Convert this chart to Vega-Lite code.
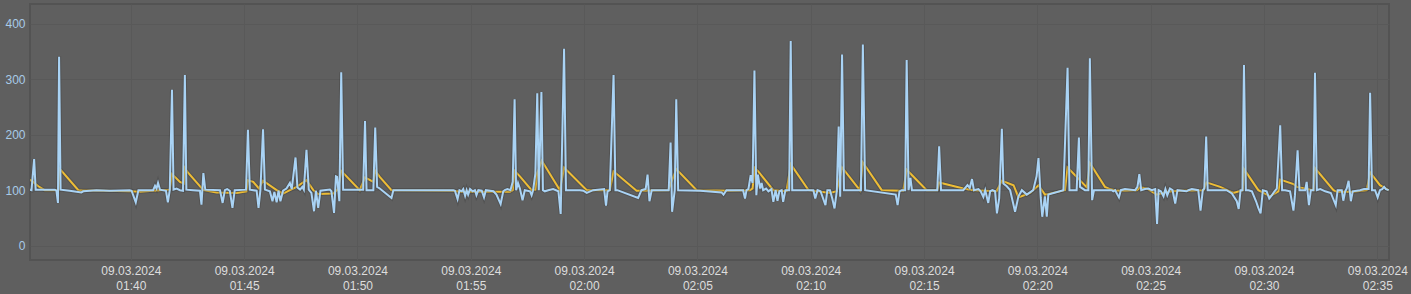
{
"$schema": "https://vega.github.io/schema/vega-lite/v6.json",
"width": 1359, "height": 256,
"autosize": {"type": "none"},
"padding": {"left": 30, "top": 4, "right": 22, "bottom": 34},
"background": "#5f5f5f",
"config": {
  "view": {"fill": "#5f5f5f", "stroke": "#535353", "strokeWidth": 2},
  "axis": {"labelFont": "Liberation Sans", "labelFontSize": 12, "grid": true, "gridColor": "#595959", "gridWidth": 1, "domain": false, "ticks": false, "title": null}
},
"datasets": {
"blue": [
{"t":"2024-03-09T01:35:33Z","v":101},{"t":"2024-03-09T01:35:37Z","v":100},{"t":"2024-03-09T01:35:44Z","v":156},{"t":"2024-03-09T01:35:48Z","v":101},
{"t":"2024-03-09T01:36:39Z","v":101},{"t":"2024-03-09T01:36:43Z","v":99},{"t":"2024-03-09T01:36:47Z","v":77},{"t":"2024-03-09T01:36:50Z","v":341},{"t":"2024-03-09T01:36:54Z","v":101},
{"t":"2024-03-09T01:37:18Z","v":99},{"t":"2024-03-09T01:37:49Z","v":96},{"t":"2024-03-09T01:37:54Z","v":98},{"t":"2024-03-09T01:38:29Z","v":100},{"t":"2024-03-09T01:39:04Z","v":99},
{"t":"2024-03-09T01:39:57Z","v":100},{"t":"2024-03-09T01:40:02Z","v":99},{"t":"2024-03-09T01:40:13Z","v":78},{"t":"2024-03-09T01:40:20Z","v":100},{"t":"2024-03-09T01:40:59Z","v":100},
{"t":"2024-03-09T01:41:04Z","v":108},{"t":"2024-03-09T01:41:08Z","v":103},{"t":"2024-03-09T01:41:12Z","v":113},{"t":"2024-03-09T01:41:17Z","v":101},{"t":"2024-03-09T01:41:33Z","v":99},
{"t":"2024-03-09T01:41:38Z","v":78},{"t":"2024-03-09T01:41:43Z","v":100},{"t":"2024-03-09T01:41:49Z","v":281},{"t":"2024-03-09T01:41:53Z","v":101},{"t":"2024-03-09T01:42:01Z","v":103},
{"t":"2024-03-09T01:42:10Z","v":100},{"t":"2024-03-09T01:42:18Z","v":99},{"t":"2024-03-09T01:42:23Z","v":308},{"t":"2024-03-09T01:42:27Z","v":101},{"t":"2024-03-09T01:42:45Z","v":100},
{"t":"2024-03-09T01:43:03Z","v":99},{"t":"2024-03-09T01:43:07Z","v":74},{"t":"2024-03-09T01:43:12Z","v":131},{"t":"2024-03-09T01:43:17Z","v":101},{"t":"2024-03-09T01:43:56Z","v":100},
{"t":"2024-03-09T01:44:03Z","v":77},{"t":"2024-03-09T01:44:09Z","v":100},{"t":"2024-03-09T01:44:15Z","v":102},{"t":"2024-03-09T01:44:22Z","v":99},{"t":"2024-03-09T01:44:29Z","v":68},
{"t":"2024-03-09T01:44:35Z","v":100},{"t":"2024-03-09T01:45:05Z","v":101},{"t":"2024-03-09T01:45:10Z","v":209},{"t":"2024-03-09T01:45:15Z","v":101},{"t":"2024-03-09T01:45:33Z","v":99},
{"t":"2024-03-09T01:45:38Z","v":68},{"t":"2024-03-09T01:45:43Z","v":100},{"t":"2024-03-09T01:45:50Z","v":210},{"t":"2024-03-09T01:45:55Z","v":101},{"t":"2024-03-09T01:46:08Z","v":98},
{"t":"2024-03-09T01:46:15Z","v":80},{"t":"2024-03-09T01:46:20Z","v":97},{"t":"2024-03-09T01:46:26Z","v":78},{"t":"2024-03-09T01:46:31Z","v":99},{"t":"2024-03-09T01:46:36Z","v":80},
{"t":"2024-03-09T01:46:43Z","v":99},{"t":"2024-03-09T01:46:52Z","v":103},{"t":"2024-03-09T01:47:01Z","v":113},{"t":"2024-03-09T01:47:06Z","v":102},{"t":"2024-03-09T01:47:16Z","v":159},
{"t":"2024-03-09T01:47:21Z","v":105},{"t":"2024-03-09T01:47:28Z","v":101},{"t":"2024-03-09T01:47:34Z","v":106},{"t":"2024-03-09T01:47:38Z","v":101},{"t":"2024-03-09T01:47:45Z","v":173},
{"t":"2024-03-09T01:47:51Z","v":101},{"t":"2024-03-09T01:47:58Z","v":95},{"t":"2024-03-09T01:48:05Z","v":62},{"t":"2024-03-09T01:48:10Z","v":99},{"t":"2024-03-09T01:48:16Z","v":68},
{"t":"2024-03-09T01:48:22Z","v":99},{"t":"2024-03-09T01:48:47Z","v":101},{"t":"2024-03-09T01:48:51Z","v":98},{"t":"2024-03-09T01:48:58Z","v":59},{"t":"2024-03-09T01:49:03Z","v":125},
{"t":"2024-03-09T01:49:06Z","v":124},{"t":"2024-03-09T01:49:12Z","v":80},{"t":"2024-03-09T01:49:17Z","v":313},{"t":"2024-03-09T01:49:22Z","v":101},{"t":"2024-03-09T01:50:15Z","v":101},
{"t":"2024-03-09T01:50:20Z","v":225},{"t":"2024-03-09T01:50:24Z","v":100},{"t":"2024-03-09T01:50:42Z","v":100},{"t":"2024-03-09T01:50:47Z","v":213},{"t":"2024-03-09T01:50:52Z","v":106},
{"t":"2024-03-09T01:50:59Z","v":103},{"t":"2024-03-09T01:51:30Z","v":86},{"t":"2024-03-09T01:51:35Z","v":100},{"t":"2024-03-09T01:54:14Z","v":100},{"t":"2024-03-09T01:54:18Z","v":99},
{"t":"2024-03-09T01:54:25Z","v":84},{"t":"2024-03-09T01:54:30Z","v":100},{"t":"2024-03-09T01:54:36Z","v":98},{"t":"2024-03-09T01:54:40Z","v":102},{"t":"2024-03-09T01:54:45Z","v":90},
{"t":"2024-03-09T01:54:49Z","v":100},{"t":"2024-03-09T01:54:53Z","v":92},{"t":"2024-03-09T01:54:58Z","v":102},{"t":"2024-03-09T01:55:05Z","v":98},{"t":"2024-03-09T01:55:11Z","v":100},
{"t":"2024-03-09T01:55:15Z","v":91},{"t":"2024-03-09T01:55:20Z","v":100},{"t":"2024-03-09T01:55:29Z","v":99},{"t":"2024-03-09T01:55:35Z","v":87},{"t":"2024-03-09T01:55:40Z","v":100},
{"t":"2024-03-09T01:56:00Z","v":98},{"t":"2024-03-09T01:56:08Z","v":92},{"t":"2024-03-09T01:56:19Z","v":75},{"t":"2024-03-09T01:56:26Z","v":98},{"t":"2024-03-09T01:56:30Z","v":100},
{"t":"2024-03-09T01:56:37Z","v":102},{"t":"2024-03-09T01:56:45Z","v":100},{"t":"2024-03-09T01:56:51Z","v":115},{"t":"2024-03-09T01:56:56Z","v":264},{"t":"2024-03-09T01:57:00Z","v":100},
{"t":"2024-03-09T01:57:05Z","v":113},{"t":"2024-03-09T01:57:10Z","v":103},{"t":"2024-03-09T01:57:17Z","v":82},{"t":"2024-03-09T01:57:23Z","v":100},{"t":"2024-03-09T01:57:37Z","v":98},
{"t":"2024-03-09T01:57:41Z","v":91},{"t":"2024-03-09T01:57:45Z","v":100},{"t":"2024-03-09T01:57:51Z","v":130},{"t":"2024-03-09T01:57:56Z","v":275},{"t":"2024-03-09T01:58:00Z","v":100},
{"t":"2024-03-09T01:58:07Z","v":277},{"t":"2024-03-09T01:58:11Z","v":100},{"t":"2024-03-09T01:58:16Z","v":98},{"t":"2024-03-09T01:58:25Z","v":100},{"t":"2024-03-09T01:58:38Z","v":102},
{"t":"2024-03-09T01:58:52Z","v":98},{"t":"2024-03-09T01:58:58Z","v":57},{"t":"2024-03-09T01:59:07Z","v":355},{"t":"2024-03-09T01:59:12Z","v":100},{"t":"2024-03-09T01:59:49Z","v":100},
{"t":"2024-03-09T01:59:58Z","v":99},{"t":"2024-03-09T02:00:07Z","v":95},{"t":"2024-03-09T02:00:24Z","v":100},{"t":"2024-03-09T02:00:53Z","v":102},{"t":"2024-03-09T02:00:58Z","v":72},
{"t":"2024-03-09T02:01:02Z","v":98},{"t":"2024-03-09T02:01:08Z","v":100},{"t":"2024-03-09T02:01:18Z","v":308},{"t":"2024-03-09T02:01:23Z","v":100},{"t":"2024-03-09T02:01:28Z","v":100},
{"t":"2024-03-09T02:02:23Z","v":86},{"t":"2024-03-09T02:02:32Z","v":100},{"t":"2024-03-09T02:02:43Z","v":102},{"t":"2024-03-09T02:02:48Z","v":128},{"t":"2024-03-09T02:02:53Z","v":80},
{"t":"2024-03-09T02:02:59Z","v":100},{"t":"2024-03-09T02:03:44Z","v":100},{"t":"2024-03-09T02:03:49Z","v":186},{"t":"2024-03-09T02:03:53Z","v":61},{"t":"2024-03-09T02:04:00Z","v":100},
{"t":"2024-03-09T02:04:04Z","v":264},{"t":"2024-03-09T02:04:09Z","v":100},{"t":"2024-03-09T02:05:07Z","v":99},{"t":"2024-03-09T02:06:04Z","v":96},{"t":"2024-03-09T02:06:09Z","v":92},
{"t":"2024-03-09T02:06:17Z","v":100},{"t":"2024-03-09T02:06:26Z","v":100},{"t":"2024-03-09T02:07:01Z","v":100},{"t":"2024-03-09T02:07:06Z","v":85},{"t":"2024-03-09T02:07:10Z","v":100},
{"t":"2024-03-09T02:07:15Z","v":102},{"t":"2024-03-09T02:07:21Z","v":127},{"t":"2024-03-09T02:07:26Z","v":113},{"t":"2024-03-09T02:07:31Z","v":316},{"t":"2024-03-09T02:07:36Z","v":91},
{"t":"2024-03-09T02:07:40Z","v":128},{"t":"2024-03-09T02:07:46Z","v":103},{"t":"2024-03-09T02:07:50Z","v":113},{"t":"2024-03-09T02:07:54Z","v":100},{"t":"2024-03-09T02:08:02Z","v":103},
{"t":"2024-03-09T02:08:08Z","v":98},{"t":"2024-03-09T02:08:16Z","v":102},{"t":"2024-03-09T02:08:21Z","v":79},{"t":"2024-03-09T02:08:27Z","v":100},{"t":"2024-03-09T02:08:32Z","v":81},
{"t":"2024-03-09T02:08:37Z","v":98},{"t":"2024-03-09T02:08:43Z","v":100},{"t":"2024-03-09T02:08:47Z","v":79},{"t":"2024-03-09T02:08:53Z","v":100},{"t":"2024-03-09T02:09:03Z","v":100},
{"t":"2024-03-09T02:09:07Z","v":369},{"t":"2024-03-09T02:09:11Z","v":100},{"t":"2024-03-09T02:10:07Z","v":100},{"t":"2024-03-09T02:10:12Z","v":85},{"t":"2024-03-09T02:10:18Z","v":100},
{"t":"2024-03-09T02:10:26Z","v":98},{"t":"2024-03-09T02:10:39Z","v":73},{"t":"2024-03-09T02:10:44Z","v":100},{"t":"2024-03-09T02:10:51Z","v":100},{"t":"2024-03-09T02:10:57Z","v":85},
{"t":"2024-03-09T02:11:03Z","v":67},{"t":"2024-03-09T02:11:09Z","v":98},{"t":"2024-03-09T02:11:14Z","v":215},{"t":"2024-03-09T02:11:18Z","v":88},{"t":"2024-03-09T02:11:23Z","v":345},
{"t":"2024-03-09T02:11:28Z","v":100},{"t":"2024-03-09T02:12:13Z","v":100},{"t":"2024-03-09T02:12:18Z","v":363},{"t":"2024-03-09T02:12:24Z","v":100},{"t":"2024-03-09T02:13:45Z","v":92},
{"t":"2024-03-09T02:13:50Z","v":73},{"t":"2024-03-09T02:13:55Z","v":98},{"t":"2024-03-09T02:14:01Z","v":100},{"t":"2024-03-09T02:14:10Z","v":100},{"t":"2024-03-09T02:14:14Z","v":335},
{"t":"2024-03-09T02:14:19Z","v":100},{"t":"2024-03-09T02:14:24Z","v":122},{"t":"2024-03-09T02:14:28Z","v":100},{"t":"2024-03-09T02:15:35Z","v":100},{"t":"2024-03-09T02:15:40Z","v":179},
{"t":"2024-03-09T02:15:45Z","v":100},{"t":"2024-03-09T02:16:44Z","v":100},{"t":"2024-03-09T02:16:55Z","v":109},{"t":"2024-03-09T02:17:01Z","v":104},{"t":"2024-03-09T02:17:07Z","v":120},
{"t":"2024-03-09T02:17:12Z","v":100},{"t":"2024-03-09T02:17:24Z","v":102},{"t":"2024-03-09T02:17:30Z","v":98},{"t":"2024-03-09T02:17:37Z","v":88},{"t":"2024-03-09T02:17:42Z","v":100},
{"t":"2024-03-09T02:17:50Z","v":77},{"t":"2024-03-09T02:17:55Z","v":98},{"t":"2024-03-09T02:18:01Z","v":100},{"t":"2024-03-09T02:18:08Z","v":98},{"t":"2024-03-09T02:18:13Z","v":58},
{"t":"2024-03-09T02:18:19Z","v":85},{"t":"2024-03-09T02:18:26Z","v":211},{"t":"2024-03-09T02:18:30Z","v":112},{"t":"2024-03-09T02:18:39Z","v":107},{"t":"2024-03-09T02:18:48Z","v":100},
{"t":"2024-03-09T02:19:01Z","v":61},{"t":"2024-03-09T02:19:10Z","v":89},{"t":"2024-03-09T02:19:19Z","v":100},{"t":"2024-03-09T02:19:32Z","v":92},{"t":"2024-03-09T02:19:49Z","v":100},
{"t":"2024-03-09T02:19:58Z","v":125},{"t":"2024-03-09T02:20:03Z","v":158},{"t":"2024-03-09T02:20:09Z","v":86},{"t":"2024-03-09T02:20:13Z","v":52},{"t":"2024-03-09T02:20:20Z","v":89},
{"t":"2024-03-09T02:20:25Z","v":52},{"t":"2024-03-09T02:20:29Z","v":92},{"t":"2024-03-09T02:21:09Z","v":100},{"t":"2024-03-09T02:21:20Z","v":321},{"t":"2024-03-09T02:21:25Z","v":100},
{"t":"2024-03-09T02:21:44Z","v":100},{"t":"2024-03-09T02:21:50Z","v":195},{"t":"2024-03-09T02:21:53Z","v":106},{"t":"2024-03-09T02:22:06Z","v":100},{"t":"2024-03-09T02:22:15Z","v":100},
{"t":"2024-03-09T02:22:19Z","v":338},{"t":"2024-03-09T02:22:25Z","v":82},{"t":"2024-03-09T02:22:30Z","v":100},{"t":"2024-03-09T02:23:17Z","v":100},{"t":"2024-03-09T02:23:21Z","v":98},
{"t":"2024-03-09T02:23:26Z","v":100},{"t":"2024-03-09T02:23:32Z","v":92},{"t":"2024-03-09T02:23:36Z","v":87},{"t":"2024-03-09T02:23:41Z","v":100},{"t":"2024-03-09T02:23:52Z","v":102},
{"t":"2024-03-09T02:24:19Z","v":100},{"t":"2024-03-09T02:24:25Z","v":106},{"t":"2024-03-09T02:24:30Z","v":129},{"t":"2024-03-09T02:24:35Z","v":100},{"t":"2024-03-09T02:24:45Z","v":102},
{"t":"2024-03-09T02:24:54Z","v":103},{"t":"2024-03-09T02:25:03Z","v":100},{"t":"2024-03-09T02:25:12Z","v":102},{"t":"2024-03-09T02:25:17Z","v":39},{"t":"2024-03-09T02:25:21Z","v":100},
{"t":"2024-03-09T02:25:27Z","v":98},{"t":"2024-03-09T02:25:34Z","v":89},{"t":"2024-03-09T02:25:39Z","v":102},{"t":"2024-03-09T02:25:44Z","v":91},{"t":"2024-03-09T02:25:51Z","v":103},
{"t":"2024-03-09T02:25:58Z","v":100},{"t":"2024-03-09T02:26:05Z","v":76},{"t":"2024-03-09T02:26:11Z","v":100},{"t":"2024-03-09T02:26:35Z","v":98},{"t":"2024-03-09T02:26:40Z","v":100},
{"t":"2024-03-09T02:26:49Z","v":102},{"t":"2024-03-09T02:27:06Z","v":100},{"t":"2024-03-09T02:27:12Z","v":63},{"t":"2024-03-09T02:27:18Z","v":100},{"t":"2024-03-09T02:27:22Z","v":103},
{"t":"2024-03-09T02:27:27Z","v":197},{"t":"2024-03-09T02:27:31Z","v":100},{"t":"2024-03-09T02:28:21Z","v":100},{"t":"2024-03-09T02:28:35Z","v":94},{"t":"2024-03-09T02:28:48Z","v":80},
{"t":"2024-03-09T02:28:53Z","v":66},{"t":"2024-03-09T02:28:58Z","v":100},{"t":"2024-03-09T02:29:03Z","v":100},{"t":"2024-03-09T02:29:07Z","v":326},{"t":"2024-03-09T02:29:12Z","v":100},
{"t":"2024-03-09T02:29:19Z","v":100},{"t":"2024-03-09T02:29:28Z","v":98},{"t":"2024-03-09T02:29:39Z","v":80},{"t":"2024-03-09T02:29:45Z","v":68},{"t":"2024-03-09T02:29:51Z","v":58},
{"t":"2024-03-09T02:29:57Z","v":100},{"t":"2024-03-09T02:30:07Z","v":98},{"t":"2024-03-09T02:30:14Z","v":85},{"t":"2024-03-09T02:30:21Z","v":91},{"t":"2024-03-09T02:30:28Z","v":98},
{"t":"2024-03-09T02:30:34Z","v":103},{"t":"2024-03-09T02:30:43Z","v":217},{"t":"2024-03-09T02:30:48Z","v":100},{"t":"2024-03-09T02:30:56Z","v":100},{"t":"2024-03-09T02:31:09Z","v":98},
{"t":"2024-03-09T02:31:18Z","v":63},{"t":"2024-03-09T02:31:22Z","v":91},{"t":"2024-03-09T02:31:29Z","v":172},{"t":"2024-03-09T02:31:34Z","v":100},{"t":"2024-03-09T02:31:49Z","v":100},
{"t":"2024-03-09T02:31:53Z","v":115},{"t":"2024-03-09T02:31:59Z","v":73},{"t":"2024-03-09T02:32:04Z","v":100},{"t":"2024-03-09T02:32:11Z","v":100},{"t":"2024-03-09T02:32:15Z","v":312},
{"t":"2024-03-09T02:32:20Z","v":100},{"t":"2024-03-09T02:32:29Z","v":102},{"t":"2024-03-09T02:32:42Z","v":98},{"t":"2024-03-09T02:32:57Z","v":95},{"t":"2024-03-09T02:33:10Z","v":73},
{"t":"2024-03-09T02:33:15Z","v":100},{"t":"2024-03-09T02:33:26Z","v":100},{"t":"2024-03-09T02:33:30Z","v":81},{"t":"2024-03-09T02:33:35Z","v":98},{"t":"2024-03-09T02:33:39Z","v":103},
{"t":"2024-03-09T02:33:44Z","v":117},{"t":"2024-03-09T02:33:50Z","v":80},{"t":"2024-03-09T02:33:55Z","v":98},{"t":"2024-03-09T02:34:14Z","v":100},{"t":"2024-03-09T02:34:25Z","v":102},
{"t":"2024-03-09T02:34:37Z","v":102},{"t":"2024-03-09T02:34:41Z","v":276},{"t":"2024-03-09T02:34:46Z","v":100},{"t":"2024-03-09T02:34:54Z","v":100},{"t":"2024-03-09T02:35:01Z","v":87},
{"t":"2024-03-09T02:35:07Z","v":100},{"t":"2024-03-09T02:35:13Z","v":102},{"t":"2024-03-09T02:35:18Z","v":106},{"t":"2024-03-09T02:35:23Z","v":102},{"t":"2024-03-09T02:35:30Z","v":100}
],
"yellow": [
{"t":"2024-03-09T01:35:33Z","v":119},{"t":"2024-03-09T01:35:41Z","v":115},{"t":"2024-03-09T01:35:55Z","v":107},{"t":"2024-03-09T01:36:12Z","v":100},{"t":"2024-03-09T01:36:48Z","v":100},
{"t":"2024-03-09T01:36:50Z","v":140},{"t":"2024-03-09T01:37:41Z","v":100},{"t":"2024-03-09T01:39:57Z","v":98},{"t":"2024-03-09T01:40:24Z","v":97},{"t":"2024-03-09T01:40:59Z","v":99},
{"t":"2024-03-09T01:41:43Z","v":101},{"t":"2024-03-09T01:41:49Z","v":129},{"t":"2024-03-09T01:42:10Z","v":115},{"t":"2024-03-09T01:42:20Z","v":112},{"t":"2024-03-09T01:42:23Z","v":140},
{"t":"2024-03-09T01:42:32Z","v":131},{"t":"2024-03-09T01:43:12Z","v":100},{"t":"2024-03-09T01:43:47Z","v":96},{"t":"2024-03-09T01:44:40Z","v":95},{"t":"2024-03-09T01:45:06Z","v":98},
{"t":"2024-03-09T01:45:10Z","v":118},{"t":"2024-03-09T01:45:24Z","v":115},{"t":"2024-03-09T01:45:39Z","v":103},{"t":"2024-03-09T01:45:50Z","v":117},{"t":"2024-03-09T01:46:26Z","v":100},
{"t":"2024-03-09T01:46:43Z","v":94},{"t":"2024-03-09T01:47:01Z","v":100},{"t":"2024-03-09T01:47:19Z","v":106},{"t":"2024-03-09T01:47:45Z","v":118},{"t":"2024-03-09T01:48:03Z","v":100},
{"t":"2024-03-09T01:48:16Z","v":93},{"t":"2024-03-09T01:48:56Z","v":94},{"t":"2024-03-09T01:49:09Z","v":102},{"t":"2024-03-09T01:49:17Z","v":135},{"t":"2024-03-09T01:50:06Z","v":100},
{"t":"2024-03-09T01:50:20Z","v":123},{"t":"2024-03-09T01:50:42Z","v":115},{"t":"2024-03-09T01:50:47Z","v":135},{"t":"2024-03-09T01:50:59Z","v":124},{"t":"2024-03-09T01:51:30Z","v":100},
{"t":"2024-03-09T01:54:14Z","v":99},{"t":"2024-03-09T01:54:31Z","v":97},{"t":"2024-03-09T01:56:44Z","v":97},{"t":"2024-03-09T01:56:51Z","v":100},{"t":"2024-03-09T01:56:56Z","v":135},
{"t":"2024-03-09T01:57:10Z","v":125},{"t":"2024-03-09T01:57:41Z","v":100},{"t":"2024-03-09T01:57:51Z","v":101},{"t":"2024-03-09T01:57:56Z","v":131},{"t":"2024-03-09T01:58:08Z","v":153},
{"t":"2024-03-09T01:58:56Z","v":100},{"t":"2024-03-09T01:59:07Z","v":141},{"t":"2024-03-09T02:00:07Z","v":100},{"t":"2024-03-09T02:01:08Z","v":100},{"t":"2024-03-09T02:01:18Z","v":134},
{"t":"2024-03-09T02:02:19Z","v":99},{"t":"2024-03-09T02:03:43Z","v":100},{"t":"2024-03-09T02:04:04Z","v":138},{"t":"2024-03-09T02:04:58Z","v":100},{"t":"2024-03-09T02:06:26Z","v":99},
{"t":"2024-03-09T02:07:19Z","v":100},{"t":"2024-03-09T02:07:26Z","v":103},{"t":"2024-03-09T02:07:32Z","v":140},{"t":"2024-03-09T02:07:41Z","v":134},{"t":"2024-03-09T02:08:21Z","v":100},
{"t":"2024-03-09T02:08:56Z","v":98},{"t":"2024-03-09T02:09:07Z","v":147},{"t":"2024-03-09T02:09:54Z","v":100},{"t":"2024-03-09T02:10:51Z","v":95},{"t":"2024-03-09T02:11:09Z","v":98},
{"t":"2024-03-09T02:11:23Z","v":141},{"t":"2024-03-09T02:12:10Z","v":100},{"t":"2024-03-09T02:12:18Z","v":150},{"t":"2024-03-09T02:13:08Z","v":100},{"t":"2024-03-09T02:14:05Z","v":99},
{"t":"2024-03-09T02:14:14Z","v":137},{"t":"2024-03-09T02:15:07Z","v":100},{"t":"2024-03-09T02:15:35Z","v":100},{"t":"2024-03-09T02:15:40Z","v":114},{"t":"2024-03-09T02:16:44Z","v":103},
{"t":"2024-03-09T02:17:11Z","v":100},{"t":"2024-03-09T02:18:12Z","v":98},{"t":"2024-03-09T02:18:26Z","v":117},{"t":"2024-03-09T02:18:57Z","v":109},{"t":"2024-03-09T02:19:10Z","v":87},
{"t":"2024-03-09T02:19:41Z","v":95},{"t":"2024-03-09T02:20:03Z","v":109},{"t":"2024-03-09T02:20:20Z","v":92},{"t":"2024-03-09T02:21:13Z","v":100},{"t":"2024-03-09T02:21:20Z","v":141},
{"t":"2024-03-09T02:22:11Z","v":105},{"t":"2024-03-09T02:22:19Z","v":149},{"t":"2024-03-09T02:22:59Z","v":106},{"t":"2024-03-09T02:23:12Z","v":102},{"t":"2024-03-09T02:23:30Z","v":99},
{"t":"2024-03-09T02:24:23Z","v":100},{"t":"2024-03-09T02:24:32Z","v":105},{"t":"2024-03-09T02:24:50Z","v":103},{"t":"2024-03-09T02:25:16Z","v":92},{"t":"2024-03-09T02:25:43Z","v":97},
{"t":"2024-03-09T02:26:18Z","v":99},{"t":"2024-03-09T02:27:20Z","v":100},{"t":"2024-03-09T02:27:28Z","v":114},{"t":"2024-03-09T02:28:04Z","v":106},{"t":"2024-03-09T02:28:39Z","v":95},
{"t":"2024-03-09T02:29:04Z","v":100},{"t":"2024-03-09T02:29:07Z","v":138},{"t":"2024-03-09T02:29:45Z","v":100},{"t":"2024-03-09T02:29:54Z","v":97},{"t":"2024-03-09T02:30:16Z","v":89},
{"t":"2024-03-09T02:30:38Z","v":98},{"t":"2024-03-09T02:30:43Z","v":119},{"t":"2024-03-09T02:31:18Z","v":111},{"t":"2024-03-09T02:31:27Z","v":106},{"t":"2024-03-09T02:32:11Z","v":100},
{"t":"2024-03-09T02:32:15Z","v":140},{"t":"2024-03-09T02:33:04Z","v":100},{"t":"2024-03-09T02:33:13Z","v":97},{"t":"2024-03-09T02:33:57Z","v":97},{"t":"2024-03-09T02:34:32Z","v":100},
{"t":"2024-03-09T02:34:41Z","v":132},{"t":"2024-03-09T02:35:07Z","v":109},{"t":"2024-03-09T02:35:30Z","v":100}
]
},
"layer": [
{
 "data": {"name": "yellow"},
 "mark": {"type": "line", "color": "#3c3c3c", "strokeWidth": 4, "opacity": 0.35, "clip": true},
 "encoding": {
  "x": {"field": "t", "type": "temporal",
   "scale": {"type": "utc", "domain": [{"year": 2024, "month": 3, "date": 9, "hours": 1, "minutes": 35, "seconds": 33, "utc": true}, {"year": 2024, "month": 3, "date": 9, "hours": 2, "minutes": 35, "seconds": 31, "utc": true}]},
   "axis": {
    "values": [
     {"year": 2024, "month": 3, "date": 9, "hours": 1, "minutes": 40, "utc": true},
     {"year": 2024, "month": 3, "date": 9, "hours": 1, "minutes": 45, "utc": true},
     {"year": 2024, "month": 3, "date": 9, "hours": 1, "minutes": 50, "utc": true},
     {"year": 2024, "month": 3, "date": 9, "hours": 1, "minutes": 55, "utc": true},
     {"year": 2024, "month": 3, "date": 9, "hours": 2, "minutes": 0, "utc": true},
     {"year": 2024, "month": 3, "date": 9, "hours": 2, "minutes": 5, "utc": true},
     {"year": 2024, "month": 3, "date": 9, "hours": 2, "minutes": 10, "utc": true},
     {"year": 2024, "month": 3, "date": 9, "hours": 2, "minutes": 15, "utc": true},
     {"year": 2024, "month": 3, "date": 9, "hours": 2, "minutes": 20, "utc": true},
     {"year": 2024, "month": 3, "date": 9, "hours": 2, "minutes": 25, "utc": true},
     {"year": 2024, "month": 3, "date": 9, "hours": 2, "minutes": 30, "utc": true},
     {"year": 2024, "month": 3, "date": 9, "hours": 2, "minutes": 35, "utc": true}
    ],
    "labelExpr": "['09.03.2024', utcFormat(datum.value, '%H:%M')]",
    "labelColor": "#dddddd", "labelBaseline": "top", "labelPadding": 5, "labelLineHeight": 15,
    "labelFlush": false, "labelOverlap": false, "labelBound": false
   }
  },
  "y": {"field": "v", "type": "quantitative",
   "scale": {"domain": [-26, 436], "nice": false, "zero": false},
   "axis": {"values": [0, 100, 200, 300, 400], "labelColor": "#a8cbe8", "labelPadding": 5}
  }
 }
},
{
 "data": {"name": "yellow"},
 "mark": {"type": "line", "color": "#eebd35", "strokeWidth": 2, "clip": true},
 "encoding": {
  "x": {"field": "t", "type": "temporal"},
  "y": {"field": "v", "type": "quantitative"}
 }
},
{
 "data": {"name": "blue"},
 "mark": {"type": "line", "color": "#3c3c3c", "strokeWidth": 4, "opacity": 0.35, "clip": true},
 "encoding": {
  "x": {"field": "t", "type": "temporal"},
  "y": {"field": "v", "type": "quantitative"}
 }
},
{
 "data": {"name": "blue"},
 "mark": {"type": "line", "color": "#a9d3f5", "strokeWidth": 2, "clip": true},
 "encoding": {
  "x": {"field": "t", "type": "temporal"},
  "y": {"field": "v", "type": "quantitative"}
 }
}
]
}
